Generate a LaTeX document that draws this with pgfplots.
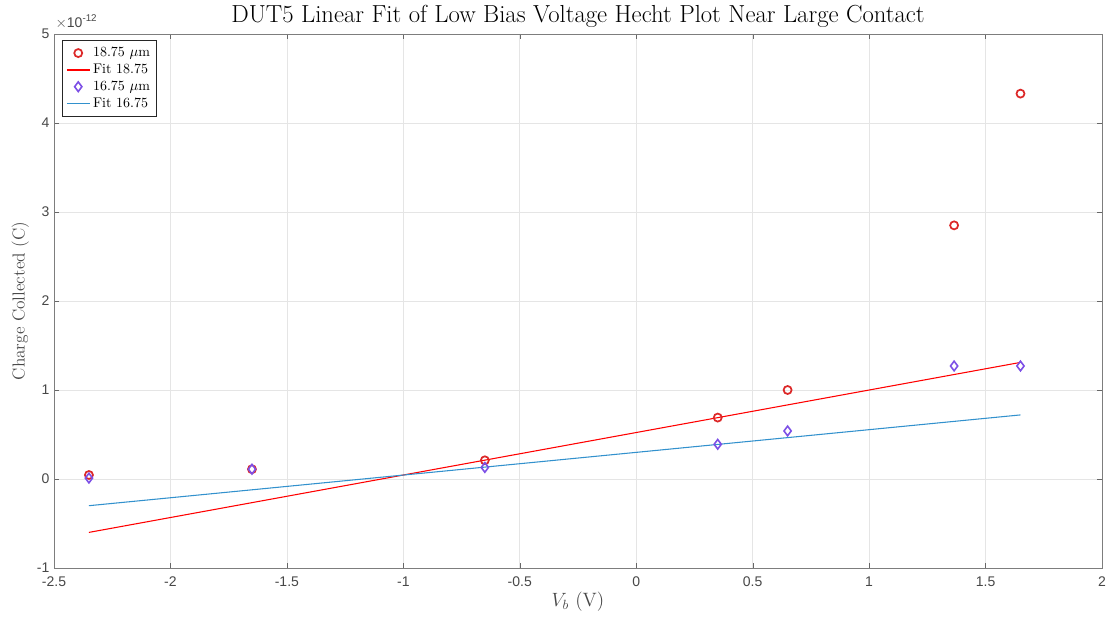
\documentclass[border=0pt]{standalone}
\usepackage{pgfplots}
\pgfplotsset{compat=1.18}
\usepackage{fontspec}
\newfontfamily\ticksf{Liberation Sans}
\definecolor{axgray}{RGB}{38,38,38}
\definecolor{redpt}{RGB}{220,40,40}
\definecolor{fitred}{RGB}{245,40,40}
\definecolor{purp}{RGB}{125,80,230}
\definecolor{fitblue}{RGB}{50,145,205}
\begin{document}
\begin{tikzpicture}
\begin{axis}[
  at={(0,0)}, anchor=south west,
  width=786pt, height=400.5pt, scale only axis,
  xmin=-2.5, xmax=2, ymin=-1, ymax=5,
  xtick={-2.5,-2,...,2}, ytick={-1,0,...,5},
  xticklabels={-2.5,-2,-1.5,-1,-0.5,0,0.5,1,1.5,2},
  yticklabels={-1,0,1,2,3,4,5},
  grid=major, major grid style={gray!20, line width=0.5pt},
  axis line style={axgray!60, line width=0.6pt},
  tick style={axgray!70},
  tick align=inside, major tick length=4pt,
  ticklabel style={font=\ticksf\fontsize{10.5}{12}\selectfont, text=axgray!85},
  xticklabel style={yshift=-3pt},
  /pgf/number format/assume math mode=true,
  title={DUT5 Linear Fit of Low Bias Voltage Hecht Plot Near Large Contact},
  title style={font=\fontsize{18.5}{22}\selectfont, yshift=-5pt},
  xlabel={$V_b$ (V)}, ylabel={Charge Collected (C)},
  label style={font=\fontsize{13}{16}\selectfont, text=axgray!85},
  xlabel style={font=\fontsize{14.5}{17}\selectfont, yshift=3pt}, ylabel style={yshift=-1pt},
  legend style={font=\fontsize{10.5}{13}\selectfont, draw=axgray, inner sep=3pt, row sep=0pt, at={(0.0075,0.988)}, anchor=north west},
  legend cell align=left,
  clip=false,
]
\addplot[only marks, mark=o, mark size=3pt, color=redpt, line width=1.3pt] coordinates {
(-2.35,0.045) (-1.65,0.11) (-0.65,0.21) (0.35,0.69) (0.65,1.0) (1.365,2.85) (1.65,4.33)};
\addlegendentry{18.75 $\mu$m}
\addplot[color=red, mark=none, line width=0.8pt, legend image post style={color=red, line width=1.1pt}] coordinates {(-2.35,-0.60) (1.65,1.31)};
\addlegendentry{Fit 18.75}
\addplot[only marks, mark=diamond, mark size=3.6pt, color=purp, line width=1.2pt] coordinates {
(-2.35,0.01) (-1.65,0.11) (-0.65,0.13) (0.35,0.39) (0.65,0.54) (1.365,1.27) (1.65,1.27)};
\addlegendentry{16.75 $\mu$m}
\addplot[color=fitblue, mark=none, line width=0.8pt, legend image post style={color=fitblue, line width=1.1pt}] coordinates {(-2.35,-0.30) (1.65,0.72)};
\addlegendentry{Fit 16.75}
\node[anchor=south west, font=\ticksf\fontsize{10.5}{12}\selectfont, text=axgray!85, inner sep=0pt] at (rel axis cs:0,1) [yshift=4pt, xshift=1pt] {$\times$10\textsuperscript{-12}};
\end{axis}
\pgfresetboundingbox
\path (-40.5pt,-39pt) rectangle (792pt,426pt);
\end{tikzpicture}
\end{document}
